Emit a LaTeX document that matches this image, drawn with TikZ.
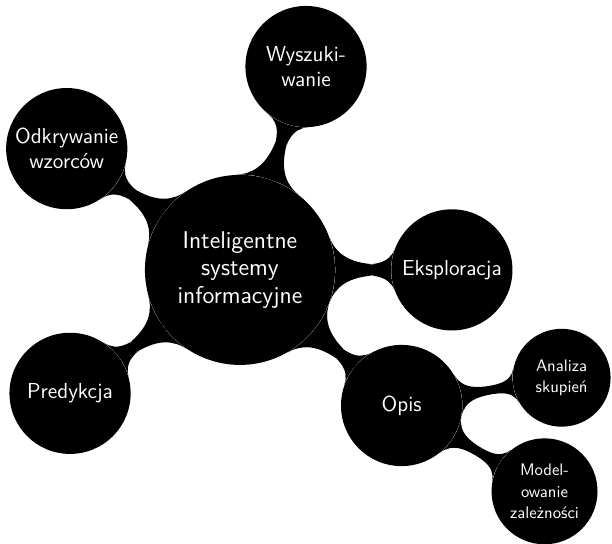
\documentclass[tikz,border=0pt]{standalone}
\usetikzlibrary{mindmap}

\begin{document}
\begin{tikzpicture}[every node/.style={font=\sffamily}]
  % Styles
  \tikzset{
    rootidea/.style={circle, fill=black, text=white, align=center, inner sep=1pt, minimum size=4cm, font=\sffamily\fontsize{14.5}{16.5}\selectfont},
    mainidea/.style={circle, fill=black, text=white, align=center, inner sep=1pt, minimum size=2.55cm, font=\sffamily\fontsize{13}{15}\selectfont},
    subidea/.style={circle, fill=black, text=white, align=center, inner sep=1pt, minimum size=2.06cm, font=\sffamily\fontsize{10}{13}\selectfont},
    link/.style={circle connection bar switch color=from (black) to (black)}
  }
  \useasboundingbox (-5.05,-5.75) rectangle (7.83,5.68);

  % Centre
  \node[rootidea] (root) at (0,0) {Inteligentne\\systemy\\informacyjne};

  % First level
  \node[mainidea] (wysz) at (72:4.5) {Wyszuki-\\wanie};
  \node[mainidea] (odkr) at (145:4.45) {Odkrywanie\\wzorców};
  \node[mainidea] (eksp) at (0:4.46) {Eksploracja};
  \node[mainidea] (pred) at (216:4.42) {Predykcja};
  \node[mainidea] (opis) at (-40:4.44) {Opis};

  % Second level
  \node[subidea] (anal) at (6.77,-2.27) {Analiza\\skupień};
  \node[subidea, minimum size=2.23cm] (mode) at (6.41,-4.66) {Model-\\owanie\\zależności};

  % Connections
  \path (root) to[link] (wysz);
  \path (root) to[link] (odkr);
  \path (root) to[link] (eksp);
  \path (root) to[link] (pred);
  \path (root) to[link] (opis);
  \path (opis) to[link] (anal);
  \path (opis) to[link] (mode);

\end{tikzpicture}
\end{document}
